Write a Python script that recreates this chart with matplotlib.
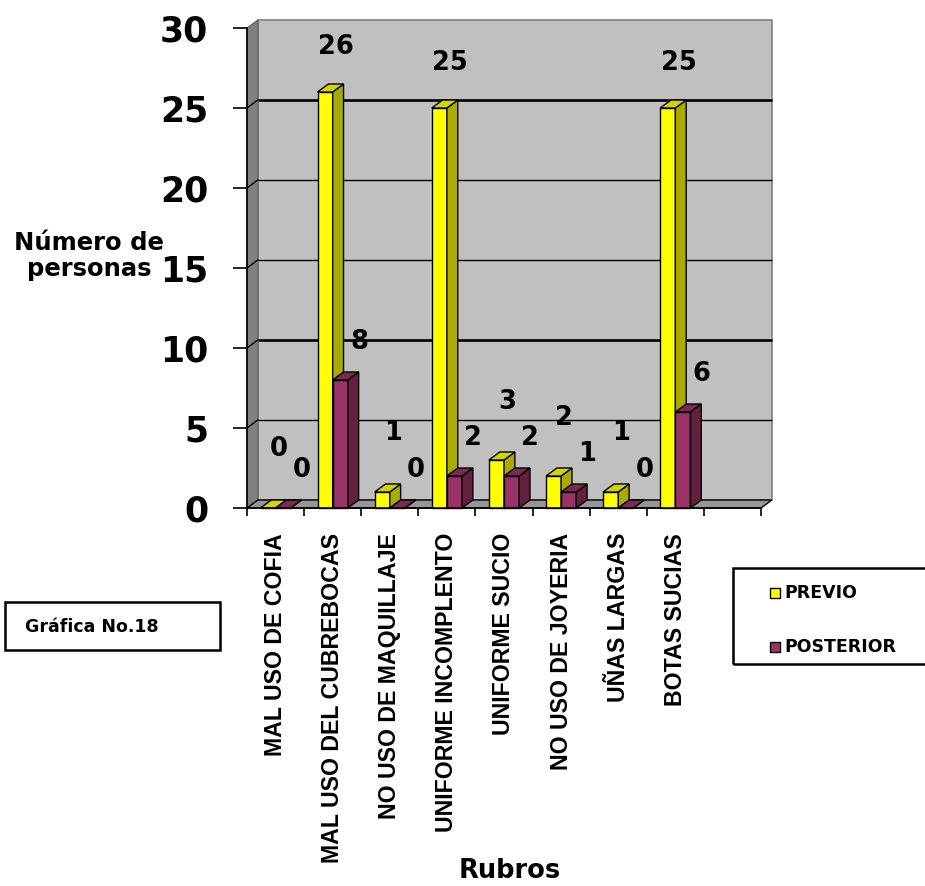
import matplotlib.pyplot as plt
from matplotlib.patches import Polygon, Rectangle
import numpy as np

# data
categorias = ['MAL USO DE COFIA', 'MAL USO DEL CUBREBOCAS', 'NO USO DE MAQUILLAJE',
              'UNIFORME INCOMPLENTO', 'UNIFORME SUCIO', 'NO USO DE JOYERIA',
              'UÑAS LARGAS', 'BOTAS SUCIAS', '']
previo = [0, 26, 1, 25, 3, 2, 1, 25]
posterior = [0, 8, 0, 2, 2, 1, 0, 6]
series_names = ['PREVIO', 'POSTERIOR']

# colours of the fake 3d faces: front, side, top
yellow = ('#FFFF00', '#AAAA00', '#D4D400')
purple = ('#993366', '#64203F', '#7E2953')

W, H = 925, 886
fig = plt.figure(figsize=(W / 100, H / 100), dpi=100)
ax = fig.add_axes([247 / W, 1 - 508 / H, 514 / W, 480 / H])
ax.set_xlim(0, len(categorias))
ax.set_ylim(0, 30)
ax.patch.set_visible(False)

dx, dy = 0.19, 0.5   # depth offset of the back wall, in data units
n = len(categorias)

# walls and floor
ax.add_patch(Rectangle((dx, dy), n, 30, facecolor='#C0C0C0', edgecolor='#808080',
                       lw=1.2, zorder=0.5, clip_on=False))
ax.add_patch(Polygon([(0, 0), (dx, dy), (dx, 30 + dy), (0, 30)], closed=True,
                     facecolor='#808080', edgecolor='#606060', lw=0.8,
                     zorder=0.6, clip_on=False))
ax.add_patch(Polygon([(0, 0), (n, 0), (n + dx, dy), (dx, dy)], closed=True,
                     facecolor='#969696', edgecolor='black', lw=1.0,
                     zorder=0.7, clip_on=False))

for v in range(5, 30, 5):
    lw = 1.9 if v in (10, 25) else 1.0
    ax.plot([dx, n + dx], [v + dy, v + dy], color='black', lw=lw, zorder=0.8,
            clip_on=False, solid_capstyle='butt')
    ax.plot([0, dx], [v, v + dy], color='black', lw=1.0, zorder=0.8, clip_on=False)


def bar3d(x0, w, h, cols, z):
    front, side, top = cols
    ax.add_patch(Rectangle((x0, 0), w, h, facecolor=front, edgecolor='black',
                           lw=1.0, zorder=z, clip_on=False))
    ax.add_patch(Polygon([(x0 + w, 0), (x0 + w + dx, dy), (x0 + w + dx, h + dy),
                          (x0 + w, h)], closed=True, facecolor=side,
                         edgecolor='black', lw=1.0, zorder=z, clip_on=False))
    ax.add_patch(Polygon([(x0, h), (x0 + dx, h + dy), (x0 + w + dx, h + dy),
                          (x0 + w, h)], closed=True, facecolor=top,
                         edgecolor='black', lw=1.0, zorder=z, clip_on=False))


bw = 0.265
for i, (a, b) in enumerate(zip(previo, posterior)):
    c = i + 0.5
    bar3d(c - bw, bw, a, yellow, 2 + i * 0.01)
    bar3d(c, bw, b, purple, 2.005 + i * 0.01)
    # value labels float above and behind the bars
    ax.text(c - bw / 2 + 0.19, a + 3.7 - 0.035 * a, str(a), ha='center', va='center',
            fontsize=18.5, fontweight='bold', zorder=5)
    ax.text(c + bw / 2 + 0.33, b + 2.4, str(b), ha='center', va='center',
            fontsize=18.5, fontweight='bold', zorder=5)

# axes
for s in ['top', 'right']:
    ax.spines[s].set_visible(False)
ax.spines['left'].set_linewidth(1.2)
ax.spines['bottom'].set_linewidth(1.2)
ax.spines['left'].set_zorder(3)
ax.spines['bottom'].set_zorder(3)
ax.set_yticks(np.arange(0, 31, 5))
ax.tick_params(axis='y', length=10, width=1.2, pad=18, labelsize=25)
for t in ax.get_yticklabels():
    t.set_fontweight('bold')

ax.set_xticks(np.arange(0, n + 1))
ax.set_xticklabels([])
ax.tick_params(axis='x', which='major', length=6, width=1.2)
ax.set_xticks(np.arange(n) + 0.5, minor=True)
ax.set_xticklabels(categorias, minor=True, rotation=90, va='top', ha='center',
                   fontsize=16.7, fontweight='bold', family='Liberation Sans')
ax.tick_params(axis='x', which='minor', length=0, pad=18)

fig.text(89 / W, 1 - 256 / H, 'Número de\npersonas', ha='center', va='center',
         fontsize=17.5, fontweight='bold', linespacing=1.15)
fig.text(510 / W, 1 - 884 / H, 'Rubros', ha='center', va='bottom',
         fontsize=18.5, fontweight='bold')

# legend box
fig.patches.append(Rectangle((733 / W, 1 - 664 / H), 200 / W, 96 / H,
                             transform=fig.transFigure, fill=False,
                             edgecolor='black', lw=1.8))
for k, (name, col, yc) in enumerate(zip(series_names, [yellow, purple], [593, 647])):
    fig.patches.append(Rectangle((770 / W, 1 - (yc + 5) / H), 10 / W, 10 / H,
                                 transform=fig.transFigure, facecolor=col[0],
                                 edgecolor='black', lw=1.0))
    fig.text(784 / W, 1 - yc / H, name, ha='left', va='center',
             fontsize=12.5, fontweight='bold')

# chart number box
fig.patches.append(Rectangle((5 / W, 1 - 650 / H), 215 / W, 48 / H,
                             transform=fig.transFigure, fill=False,
                             edgecolor='black', lw=1.8))
fig.text(25 / W, 1 - 627 / H, 'Gráfica No.18', ha='left', va='center',
         fontsize=12.5, fontweight='bold')

fig.savefig('out.png', dpi=100)
